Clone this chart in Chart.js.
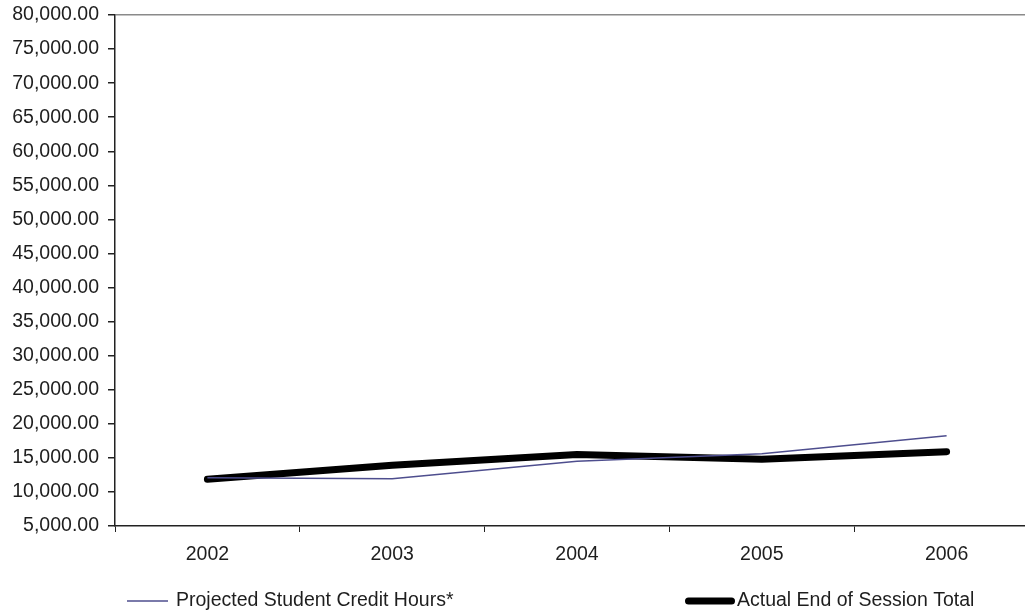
<!DOCTYPE html>
<html>
<head>
<meta charset="utf-8">
<script src="https://cdn.jsdelivr.net/npm/chart.js@4"></script>
<style>
  html, body { margin: 0; padding: 0; background: #fff; overflow: hidden; }
  #wrap { position: relative; width: 1045px; height: 611px; }
</style>
</head>
<body>
<div id="wrap"><canvas id="chart" width="1045" height="611"></canvas></div>
<script>
const years = ['2002', '2003', '2004', '2005', '2006'];
const projected = [12100, 11950, 14500, 15600, 18250];
const actual = [11850, 13900, 15500, 14800, 15900];
const yMin = 5000;
const yMax = 80000;
const yStep = 5000;

const FONT = 'Liberation Sans, Arial, sans-serif';
const FSIZE = 19.5;

// legend drawn by hand, the two items sit far apart
const spreadLegend = {
  id: 'spreadLegend',
  afterDraw(chart) {
    const ctx = chart.ctx;
    const items = [
      { x: 127, len: 41, gap: 8 },
      { x: 685, len: 50, gap: 2 }
    ];
    const y = 601;
    ctx.save();
    chart.data.datasets.forEach((ds, i) => {
      const it = items[i];
      ctx.strokeStyle = ds.borderColor;
      ctx.lineWidth = ds.borderWidth;
      ctx.lineCap = ds.borderCapStyle;
      const inset = ds.borderCapStyle === 'round' ? ds.borderWidth / 2 : 0;
      ctx.beginPath();
      ctx.moveTo(it.x + inset, y);
      ctx.lineTo(it.x + it.len - inset, y);
      ctx.stroke();
      ctx.fillStyle = '#1e1e1e';
      ctx.font = FSIZE + 'px ' + FONT;
      ctx.textBaseline = 'middle';
      ctx.fillText(ds.label, it.x + it.len + it.gap, y);
    });
    ctx.restore();
  }
};

new Chart(document.getElementById('chart'), {
  type: 'line',
  data: {
    labels: years,
    datasets: [
      {
        label: 'Projected Student Credit Hours*',
        data: projected,
        borderColor: '#4e4e8e',
        borderWidth: 1.5,
        borderCapStyle: 'butt',
        pointRadius: 0,
        tension: 0
      },
      {
        label: 'Actual End of Session Total',
        data: actual,
        borderColor: '#000000',
        borderWidth: 7,
        borderCapStyle: 'round',
        borderJoinStyle: 'round',
        pointRadius: 0,
        tension: 0
      }
    ]
  },
  options: {
    responsive: false,
    animation: false,
    layout: { padding: { top: 15, right: 6, left: 0, bottom: 0 } },
    plugins: {
      legend: { display: false },
      tooltip: { enabled: false }
    },
    scales: {
      x: {
        offset: true,
        grid: {
          offset: true,
          drawOnChartArea: false,
          tickLength: 6,
          tickColor: '#222'
        },
        border: { color: '#222', width: 1.5 },
        ticks: {
          color: '#1e1e1e',
          font: { family: FONT, size: FSIZE },
          padding: 11,
          autoSkip: false,
          maxRotation: 0
        },
        afterFit(scale) {
          scale.height = 85;
          scale.paddingLeft = 0;
          scale.paddingRight = 0;
        }
      },
      y: {
        min: yMin,
        max: yMax,
        grid: {
          drawOnChartArea: true,
          color: (c) => (c.tick && c.tick.value === yMax ? '#8a8a8a' : 'rgba(0,0,0,0)'),
          lineWidth: 1.5,
          tickLength: 7,
          tickColor: '#222'
        },
        border: { color: '#222', width: 1.5 },
        ticks: {
          stepSize: yStep,
          autoSkip: false,
          color: '#1e1e1e',
          font: { family: FONT, size: FSIZE },
          padding: 9,
          callback: (v) => v.toLocaleString('en-US', { minimumFractionDigits: 2, maximumFractionDigits: 2 })
        },
        afterFit(scale) {
          scale.width = 115;
          scale.paddingTop = 0;
          scale.paddingBottom = 0;
        }
      }
    }
  },
  plugins: [spreadLegend]
});
</script>
</body>
</html>
